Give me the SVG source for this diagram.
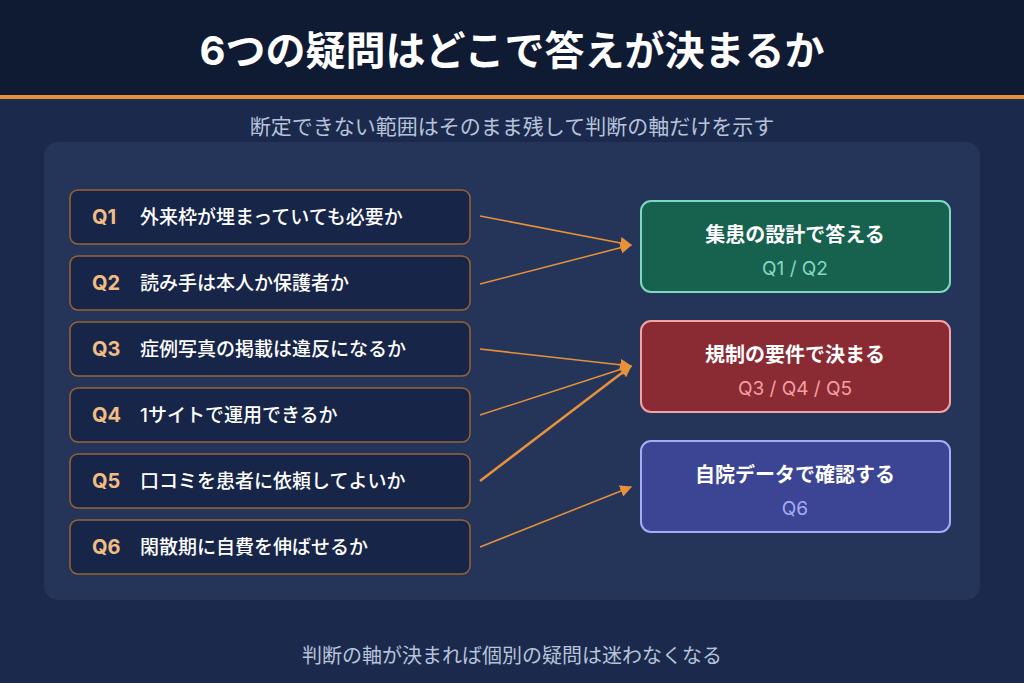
<svg xmlns="http://www.w3.org/2000/svg" width="1024" height="683" viewBox="0 0 1024 683">
<defs>
<marker id="ah" viewBox="0 0 10 10" refX="9" refY="5" markerWidth="12" markerHeight="12" markerUnits="userSpaceOnUse" orient="auto"><path d="M0,0 L10,5 L0,10 z" fill="#e8913a"/></marker>
<style>
text{font-family:"Inter","Noto Sans CJK JP",sans-serif}
.q{fill:#172548;stroke:#9a6332;stroke-width:1.5}
.ql{font-size:20px;font-weight:700;fill:#f2bd85}
.qt{font-size:19px;font-weight:500;fill:#ffffff}
.c{stroke:#e8913a;stroke-width:1.5;fill:none}
.h{font-size:20px;font-weight:700;fill:#fff;text-anchor:middle}
.s{font-size:19px;text-anchor:middle}
</style>
</defs>
<rect width="1024" height="683" fill="#1b2a4c"/>
<rect width="1024" height="95" fill="#0f1a33"/>
<rect y="95" width="1024" height="4" fill="#e8913a"/>
<text x="512" y="65" font-size="40" font-weight="700" fill="#fff" text-anchor="middle">6つの疑問はどこで答えが決まるか</text>
<text x="512" y="134" font-size="21" fill="#b7c3db" text-anchor="middle">断定できない範囲はそのまま残して判断の軸だけを示す</text>
<rect x="44" y="142" width="936" height="458" rx="14" fill="#243559"/>
<g id="q1"><rect class="q" x="70" y="190" width="400" height="54" rx="8"/><text class="ql" x="92" y="224">Q1</text><text class="qt" x="140" y="224">外来枠が埋まっていても必要か</text></g>
<g id="q2"><rect class="q" x="70" y="256" width="400" height="54" rx="8"/><text class="ql" x="92" y="290">Q2</text><text class="qt" x="140" y="290">読み手は本人か保護者か</text></g>
<g id="q3"><rect class="q" x="70" y="322" width="400" height="54" rx="8"/><text class="ql" x="92" y="356">Q3</text><text class="qt" x="140" y="356">症例写真の掲載は違反になるか</text></g>
<g id="q4"><rect class="q" x="70" y="388" width="400" height="54" rx="8"/><text class="ql" x="92" y="422">Q4</text><text class="qt" x="140" y="422">1サイトで運用できるか</text></g>
<g id="q5"><rect class="q" x="70" y="454" width="400" height="54" rx="8"/><text class="ql" x="92" y="488">Q5</text><text class="qt" x="140" y="488">口コミを患者に依頼してよいか</text></g>
<g id="q6"><rect class="q" x="70" y="520" width="400" height="54" rx="8"/><text class="ql" x="92" y="554">Q6</text><text class="qt" x="140" y="554">閑散期に自費を伸ばせるか</text></g>
<g id="a1"><rect x="641" y="201" width="309" height="91" rx="10" fill="#17614f" stroke="#7fd9c2" stroke-width="2"/><text class="h" x="795" y="242">集患の設計で答える</text><text class="s" x="795" y="275" fill="#84d9c3">Q1 / Q2</text></g>
<g id="a2"><rect x="641" y="321" width="309" height="91" rx="10" fill="#8a2a33" stroke="#f4a3a3" stroke-width="2"/><text class="h" x="795" y="362">規制の要件で決まる</text><text class="s" x="795" y="395" fill="#f4a0a0">Q3 / Q4 / Q5</text></g>
<g id="a3"><rect x="641" y="441" width="309" height="91" rx="10" fill="#3c4594" stroke="#a3acf4" stroke-width="2"/><text class="h" x="795" y="482">自院データで確認する</text><text class="s" x="795" y="515" fill="#a3acf4">Q6</text></g>
<g id="connectors">
<line class="c" x1="480" y1="216" x2="631" y2="245" marker-end="url(#ah)"/>
<line class="c" x1="480" y1="284" x2="631" y2="245" marker-end="url(#ah)"/>
<line class="c" x1="480" y1="349" x2="631" y2="366" marker-end="url(#ah)"/>
<line class="c" x1="480" y1="415" x2="631" y2="366" marker-end="url(#ah)"/>
<line class="c" style="stroke-width:2.5" x1="480" y1="481" x2="631" y2="366" marker-end="url(#ah)"/>
<line class="c" x1="480" y1="547" x2="631" y2="487" marker-end="url(#ah)"/>
</g>
<text x="512" y="663" font-size="20" fill="#b7c3db" text-anchor="middle">判断の軸が決まれば個別の疑問は迷わなくなる</text>
</svg>
